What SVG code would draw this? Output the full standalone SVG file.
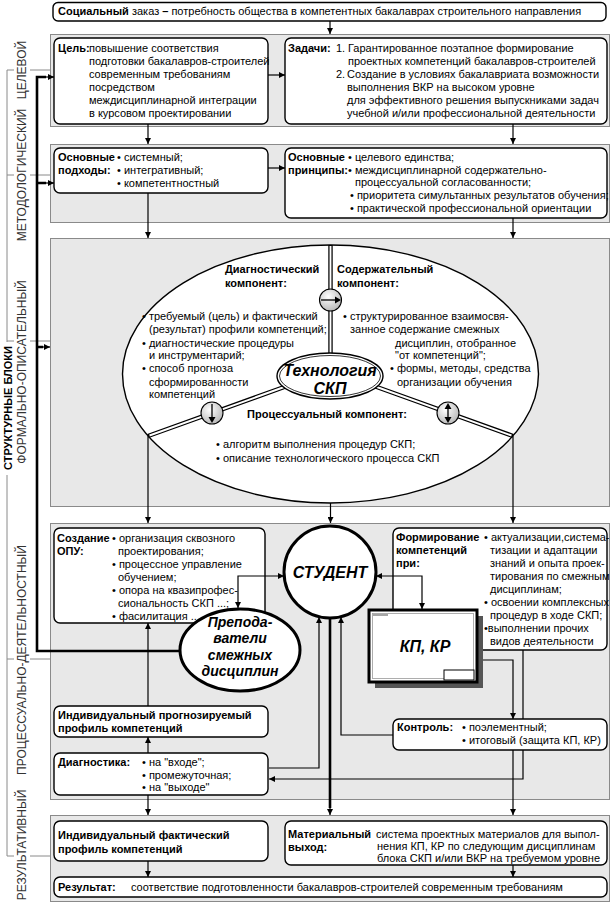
<svg xmlns="http://www.w3.org/2000/svg" width="611" height="903" viewBox="0 0 611 903">
<defs>
<marker id="ar" viewBox="0 0 10 10" refX="10" refY="5" markerWidth="8" markerHeight="6" markerUnits="userSpaceOnUse" orient="auto-start-reverse"><path d="M0,0L10,5L0,10z" fill="#000"/></marker>
<radialGradient id="cg" cx="0.4" cy="0.35" r="0.75"><stop offset="0" stop-color="#fff"/><stop offset="1" stop-color="#b0b0b0"/></radialGradient>
</defs>
<style>
text{font-family:"Liberation Sans",Arial,sans-serif;font-size:11px;fill:#000}
.b{font-weight:bold}
.bi{font-weight:bold;font-style:italic;font-size:16px}
.t{font-size:14px}
.side{font-size:12px;fill:#333}
.band{fill:#e8e8e8;stroke:#8a8a8a;stroke-width:1}
.box{fill:#fff;stroke:#000;stroke-width:1.4}
.c{fill:none;stroke:#000;stroke-width:1.2;marker-end:url(#ar)}
.cs{marker-start:url(#ar)}
.ct{fill:none;stroke:#000;stroke-width:2.6}
.br{fill:none;stroke:#8a8a8a;stroke-width:1}
.dl{fill:none;stroke:#000;stroke-width:4.4}
.dw{fill:none;stroke:#fff;stroke-width:1.9}
.knob{fill:url(#cg);stroke:#000;stroke-width:1.1}
</style>

<g id="side-labels">
<path class="br" d="M7,70V342M7,475V856M7,70H14M30,70H50M7,175H14M30,175H50M7,341H14M30,341H50M7,659H14M30,659H50M7,856H14M30,856H50"/>
<text class="side" text-anchor="middle" transform="translate(26,70) rotate(-90)">ЦЕЛЕВОЙ</text>
<text class="side" text-anchor="middle" transform="translate(26,175) rotate(-90)">МЕТОДОЛОГИЧЕСКИЙ</text>
<text class="side" text-anchor="middle" transform="translate(26,372) rotate(-90)">ФОРМАЛЬНО-ОПИСАТЕЛЬНЫЙ</text>
<text class="b" text-anchor="middle" transform="translate(12,408) rotate(-90)">СТРУКТУРНЫЕ БЛОКИ</text>
<text class="side" text-anchor="middle" transform="translate(26,660) rotate(-90)">ПРОЦЕССУАЛЬНО-ДЕЯТЕЛЬНОСТНЫЙ</text>
<text class="side" text-anchor="middle" transform="translate(26,845) rotate(-90)">РЕЗУЛЬТАТИВНЫЙ</text>
</g>

<g id="bands">
<rect class="band" x="50.5" y="34.5" width="559" height="92"/>
<rect class="band" x="50.5" y="144.5" width="559" height="78"/>
<rect class="band" x="50.5" y="238.5" width="559" height="268"/>
<rect class="band" x="50.5" y="523.5" width="559" height="276"/>
<rect class="band" x="50.5" y="815.5" width="559" height="86"/>
</g>

<g id="social-order">
<rect class="box" x="53" y="2.5" width="553" height="18.5" rx="5"/>
<text x="58" y="15"><tspan class="b">Социальный</tspan> заказ <tspan class="b">–</tspan> потребность общества в компетентных бакалаврах строительного направления</text>
</g>

<g id="goal">
<rect class="box" x="54" y="38" width="214" height="86" rx="6"/>
<text x="58" y="52" class="b">Цель:</text>
<text x="89" y="52">повышение соответствия</text>
<text x="89" y="65">подготовки бакалавров-строителей</text>
<text x="89" y="78">современным требованиям</text>
<text x="89" y="91">посредством</text>
<text x="89" y="104">междисциплинарной интеграции</text>
<text x="89" y="117">в курсовом проектировании</text>
</g>

<g id="tasks">
<rect class="box" x="285" y="38" width="322" height="86" rx="6"/>
<text x="288" y="52" class="b">Задачи:</text>
<text x="336" y="52">1.</text>
<text x="348" y="52">Гарантированное поэтапное формирование</text>
<text x="348" y="65">проектных компетенций бакалавров-строителей</text>
<text x="336" y="78">2.</text>
<text x="347" y="78">Создание в условиях бакалавриата возможности</text>
<text x="347" y="91">выполнения ВКР на высоком уровне</text>
<text x="347" y="104">для эффективного решения выпускниками задач</text>
<text x="347" y="117">учебной и/или профессиональной деятельности</text>
</g>

<g id="approaches">
<rect class="box" x="54" y="148" width="214" height="45" rx="6"/>
<text x="58" y="161" class="b">Основные</text>
<text x="58" y="174" class="b">подходы:</text>
<text x="117" y="161">• системный;</text>
<text x="117" y="174">• интегративный;</text>
<text x="117" y="187">• компетентностный</text>
</g>

<g id="principles">
<rect class="box" x="285" y="148" width="322" height="70" rx="6"/>
<text x="288" y="161" class="b">Основные</text>
<text x="288" y="174" class="b">принципы:</text>
<text x="348" y="161">• целевого единства;</text>
<text x="348" y="174">• междисциплинарной содержательно-</text>
<text x="355" y="186">процессуальной согласованности;</text>
<text x="350" y="199">• приоритета симультанных результатов обучения;</text>
<text x="350" y="212">• практической профессиональной ориентации</text>
</g>

<g id="technology">
<ellipse cx="330.5" cy="374" rx="208" ry="129" fill="#fff" stroke="#000" stroke-width="1.4"/>
<path class="dl" d="M330.5,245V356M148,436L287,386M513,436L374,386"/>
<path class="dw" d="M330.5,246V356M149.5,435.5L287,386M511.5,435.5L374,386"/>
<circle class="knob" cx="330.5" cy="300" r="11"/>
<path d="M321,300H336" stroke="#000" stroke-width="1.3"/><path d="M341,300l-6,-3.5v7z"/>
<circle class="knob" cx="212" cy="413" r="11"/>
<path d="M212,404V417" stroke="#000" stroke-width="1.3"/><path d="M212,423l-3.5,-6h7z"/>
<circle class="knob" cx="448" cy="413" r="11"/>
<path d="M448,408V418" stroke="#000" stroke-width="1.3"/><path d="M448,403l-3.5,6h7z M448,423l-3.5,-6h7z"/>
<ellipse cx="330" cy="376" rx="53" ry="23" fill="#fff" stroke="#000" stroke-width="1.4"/>
<ellipse cx="330" cy="376" rx="50.5" ry="20.5" fill="none" stroke="#000" stroke-width="0.8"/>
<text class="bi" text-anchor="middle"><tspan x="330" y="376">Технология</tspan><tspan x="330" y="394">СКП</tspan></text>
<text class="b" x="225" y="273">Диагностический</text>
<text class="b" x="225" y="287">компонент:</text>
<text class="b" x="337" y="273">Содержательный</text>
<text class="b" x="337" y="287">компонент:</text>
<text x="142" y="320">• требуемый (цель) и фактический</text>
<text x="149" y="333">(результат) профили компетенций;</text>
<text x="142" y="347">• диагностические  процедуры</text>
<text x="149" y="359">и инструментарий;</text>
<text x="142" y="372">• способ прогноза</text>
<text x="149" y="386">сформированности</text>
<text x="149" y="398">компетенций</text>
<text x="343" y="320">• структурированное взаимосвя-</text>
<text x="350" y="333">занное содержание смежных</text>
<text x="395" y="347">дисциплин, отобранное</text>
<text x="395" y="359">"от компетенций";</text>
<text x="390" y="372">• формы, методы, средства</text>
<text x="397" y="386">организации обучения</text>
<text class="b" x="327" y="418" text-anchor="middle">Процессуальный компонент:</text>
<text x="216" y="448">• алгоритм выполнения процедур СКП;</text>
<text x="216" y="462">• описание технологического процесса СКП</text>
</g>

<g id="create-opu">
<rect class="box" x="54" y="528" width="211" height="95" rx="6"/>
<text class="b" x="57" y="542">Создание</text>
<text class="b" x="57" y="555">ОПУ:</text>
<text x="112" y="542">• организация сквозного</text>
<text x="118" y="555">проектирования;</text>
<text x="112" y="568">• процессное управление</text>
<text x="118" y="581">обучением;</text>
<text x="112" y="594">• опора на квазипрофес-</text>
<text x="118" y="607">сиональность СКП ...;</text>
<text x="112" y="620">• фасилитация ...</text>
</g>

<g id="formation">
<rect class="box" x="393" y="528" width="214" height="122" rx="6"/>
<text class="b" x="396" y="541">Формирование</text>
<text class="b" x="396" y="554">компетенций</text>
<text class="b" x="396" y="567">при:</text>
<text x="484" y="541">• актуализации,система-</text>
<text x="490" y="554">тизации и адаптации</text>
<text x="490" y="567">знаний и опыта проек-</text>
<text x="490" y="580">тирования по смежным</text>
<text x="490" y="593">дисциплинам;</text>
<text x="484" y="606">• освоении комплексных</text>
<text x="490" y="619">процедур в ходе СКП;</text>
<text x="484" y="632">•выполнении прочих</text>
<text x="490" y="645">видов деятельности</text>
</g>

<g id="student">
<circle cx="330" cy="572" r="46" fill="#fff" stroke="#000" stroke-width="3"/>
<text class="bi" x="330" y="578" text-anchor="middle">СТУДЕНТ</text>
</g>

<g id="teachers">
<ellipse cx="240" cy="650" rx="60" ry="41" fill="#fff" stroke="#000" stroke-width="3"/>
<text class="bi t" text-anchor="middle"><tspan x="240" y="627">Препода-</tspan><tspan x="240" y="643.3">ватели</tspan><tspan x="240" y="659.6">смежных</tspan><tspan x="240" y="675.9">дисциплин</tspan></text>
</g>

<g id="kp-kr">
<rect x="375" y="616" width="108" height="72" fill="#555"/>
<rect x="369" y="610" width="108" height="72" fill="#fff" stroke="#000" stroke-width="3"/>
<rect x="372.5" y="613.5" width="101" height="65" fill="none" stroke="#999" stroke-width="0.8"/>
<path d="M373,615H388" stroke="#888" stroke-width="1.5"/>
<rect x="444" y="670" width="30" height="10" fill="#fff" stroke="#000" stroke-width="1"/>
<text class="bi" x="425" y="652" text-anchor="middle">КП, КР</text>
</g>

<g id="control">
<rect class="box" x="393" y="719" width="214" height="31" rx="6"/>
<text class="b" x="397" y="731">Контроль:</text>
<text x="462" y="731">• поэлементный;</text>
<text x="462" y="744">• итоговый (защита КП, КР)</text>
</g>

<g id="forecast-profile">
<rect class="box" x="54" y="706" width="214" height="31" rx="6"/>
<text class="b" x="58" y="719">Индивидуальный прогнозируемый</text>
<text class="b" x="58" y="732">профиль компетенций</text>
</g>

<g id="diagnostics">
<rect class="box" x="54" y="753" width="214" height="42" rx="6"/>
<text class="b" x="58" y="766">Диагностика:</text>
<text x="142" y="766">• на "входе";</text>
<text x="142" y="779">• промежуточная;</text>
<text x="142" y="791">• на "выходе"</text>
</g>

<g id="actual-profile">
<rect class="box" x="54" y="821" width="214" height="40" rx="6"/>
<text class="b" x="58" y="839">Индивидуальный фактический</text>
<text class="b" x="58" y="853">профиль компетенций</text>
</g>

<g id="material-output">
<rect class="box" x="285" y="821" width="322" height="44" rx="6"/>
<text class="b" x="288" y="838">Материальный</text>
<text class="b" x="288" y="851">выход:</text>
<text x="376" y="838">система проектных материалов для выпол-</text>
<text x="377" y="850">нения КП, КР по следующим дисциплинам</text>
<text x="377" y="862">блока СКП и/или ВКР на требуемом уровне</text>
</g>

<g id="result">
<rect class="box" x="54" y="877" width="553" height="20" rx="6"/>
<text class="b" x="58" y="891">Результат:</text>
<text x="131" y="891">соответствие подготовленности бакалавров-строителей современным требованиям</text>
</g>

<g id="connectors">
<path class="c" d="M330,21V34"/>
<path class="c" d="M268,75H285"/>
<path class="c" d="M148,124V144"/>
<path class="c" d="M513,124V144"/>
<path class="c" d="M268,168H285"/>
<path class="c" d="M148,193V238"/>
<path class="c" d="M513,218V238"/>
<path class="c" d="M148,436V523"/>
<path class="c" d="M330.5,503V523"/>
<path class="c" d="M513,436V523"/>
<path class="ct" d="M180,651H37V77H46"/>
<path class="ct" d="M37,183H46M37,347H43"/>
<path class="c" d="M45,77H54"/>
<path class="c" d="M45,183H54"/>
<path class="c" d="M42,347H50"/>
<path class="c cs" d="M238,608V576H284"/>
<path class="c cs" d="M376,576H422V609"/>
<path class="c" d="M269,768H319V617"/>
<path class="c" d="M393,735H341V617"/>
<path class="ct" d="M330,618V808"/>
<path class="c" d="M330,806V815"/>
<path class="c" d="M483,660H513V719"/>
<path class="c" d="M523,650V719M523,750V779H269"/>
<path class="c" d="M513,750V815"/>
<path class="c" d="M148,706V623"/>
<path class="c" d="M148,753V737"/>
<path class="c" d="M148,795V815"/>
<path class="c" d="M148,861V877"/>
<path class="c" d="M513,865V877"/>
</g>
</svg>
